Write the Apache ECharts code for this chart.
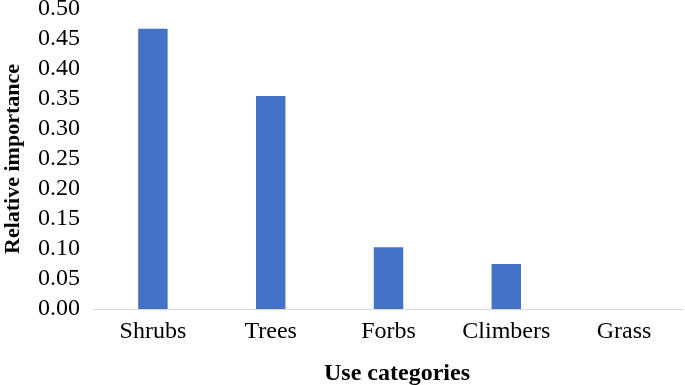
<!DOCTYPE html>
<html>
<head>
<meta charset="utf-8">
<script src="https://cdn.jsdelivr.net/npm/echarts@6/dist/echarts.min.js"></script>
<style>
	html, body { margin: 0; padding: 0; background: #fff; }
	#chart { width: 685px; height: 385px; }
</style>
</head>
<body>
<div id="chart"></div>
<script>
const categories = ["Shrubs", "Trees", "Forbs", "Climbers", "Grass"];
const importance = [0.467, 0.355, 0.103, 0.075, 0];

const serif = "'Liberation Serif', 'DejaVu Serif', serif";

const myChart = echarts.init(document.getElementById("chart"));
const option = {
	animation: false,
	grid: { left: 94, right: 2, top: 9, bottom: 76, containLabel: false, outerBoundsMode: "none" },
	xAxis: {
		type: "category",
		data: categories,
		name: "Use categories",
		nameLocation: "middle",
		nameGap: 53,
		nameTextStyle: {
			fontFamily: serif, fontSize: 24, fontWeight: "bold", color: "#000",
			padding: [0, 0, 0, 17]
		},
		axisLine: { lineStyle: { color: "#d9d9d9", width: 1 } },
		axisTick: { show: false },
		axisLabel: { fontFamily: serif, fontSize: 24, color: "#000", margin: 11 }
	},
	yAxis: {
		type: "value",
		min: 0,
		max: 0.5,
		interval: 0.05,
		name: "Relative importance",
		nameLocation: "middle",
		nameGap: 70,
		nameTextStyle: { fontFamily: serif, fontSize: 22, fontWeight: "bold", color: "#000" },
		axisLine: { show: false },
		axisTick: { show: false },
		splitLine: { show: false },
		axisLabel: {
			fontFamily: serif, fontSize: 24, color: "#000", margin: 14,
			formatter: v => v.toFixed(2)
		}
	},
	series: [{
		type: "bar",
		data: importance,
		barWidth: "25%",
		itemStyle: { color: "#4472c4" }
	}]
};
myChart.setOption(option);
</script>
</body>
</html>
